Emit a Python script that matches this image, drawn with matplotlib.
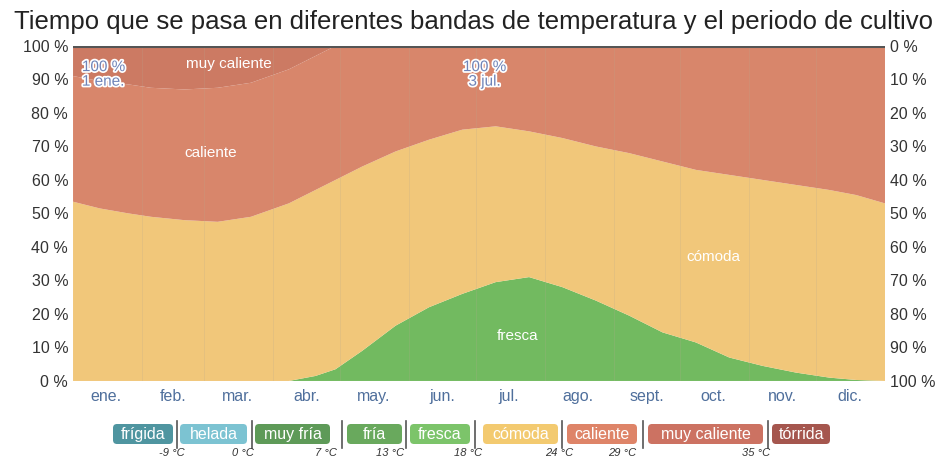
import matplotlib
matplotlib.use('Agg')
import matplotlib.pyplot as plt
import matplotlib.patheffects as pe
from matplotlib.patches import FancyBboxPatch
import numpy as np

plt.rcParams['font.family'] = ['Liberation Sans', 'DejaVu Sans']

# day of year for each sample
days = [0, 12, 25, 35, 50, 65, 80, 97, 109, 118, 130, 145, 160, 175, 190,
        205, 220, 235, 250, 265, 280, 295, 310, 325, 340, 352, 365]

# share of time (%) in each band, bottom to top
fresca = [0, 0, 0, 0, 0, 0, 0, 0, 1.5, 3.5, 9, 16.5, 22, 26, 29.5,
          31, 28, 24, 19.5, 14.5, 11.5, 7, 4.5, 2.5, 1, 0.3, 0]
comoda = [53.5, 51.5, 50, 49, 48, 47.5, 49, 53, 55.5, 56.5, 55, 52, 50, 49, 46.5,
          43.5, 44.5, 46, 48.5, 51, 51.5, 54.5, 55.5, 56, 56, 55.2, 53]
caliente = [37.5, 38, 38.5, 38.5, 39, 40, 40, 40, 40, 40, 36, 31.5, 28, 25, 24,
            25.5, 27.5, 30, 32, 34.5, 37, 38.5, 40, 41.5, 43, 44.5, 47]
muy_caliente = [9, 10.5, 11.5, 12.5, 13, 12.5, 11, 7, 3, 0, 0, 0, 0, 0, 0,
                0, 0, 0, 0, 0, 0, 0, 0, 0, 0, 0, 0]

months = ['ene.', 'feb.', 'mar.', 'abr.', 'may.', 'jun.', 'jul.', 'ago.',
          'sept.', 'oct.', 'nov.', 'dic.']
month_mid = [15, 45, 74, 105, 135, 166, 196, 227, 258, 288, 319, 349]
month_start = [31, 59, 90, 120, 151, 181, 212, 243, 273, 304, 334]

bands = ['frígida', 'helada', 'muy fría', 'fría', 'fresca', 'cómoda',
         'caliente', 'muy caliente', 'tórrida']
band_colors = ['#4f95a0', '#7cc3d2', '#5e9a58', '#69a95d', '#7cc46a',
               '#f3ca70', '#de8468', '#cc7262', '#a5564e']
temps = ['-9 °C', '0 °C', '7 °C', '13 °C', '18 °C', '24 °C', '29 °C', '35 °C']

c_fresca = '#72ba60'
c_comoda = '#f1c77a'
c_caliente = '#d8866b'
c_muy = '#cc7a63'

fig = plt.figure(figsize=(9.46, 4.59), dpi=100)
ax = fig.add_axes([0.0772, 0.170, 0.8583, 0.730])

ax.stackplot(days, fresca, comoda, caliente, muy_caliente,
             colors=[c_fresca, c_comoda, c_caliente, c_muy], linewidth=0)
ax.set_xlim(0, 365)
ax.set_ylim(0, 100)

for d in month_start:
    ax.axvline(d, color='#b8a890', lw=0.6, alpha=0.25)
ax.axhline(100, color='#555555', lw=2.2)

ax.set_yticks(range(0, 101, 10))
ax.set_yticklabels([f'{v} %' for v in range(0, 101, 10)])
ax.set_xticks(month_mid)
ax.set_xticklabels(months, color='#4f6f9c')
ax.tick_params(axis='both', length=0, labelsize=11.5, colors='#333333')
ax.tick_params(axis='x', colors='#4f6f9c', pad=6)
for s in ax.spines.values():
    s.set_visible(False)

ax2 = ax.twinx()
ax2.set_ylim(100, 0)
ax2.set_yticks(range(0, 101, 10))
ax2.set_yticklabels([f'{v} %' for v in range(0, 101, 10)])
ax2.tick_params(axis='y', length=0, labelsize=11.5, colors='#333333')
for s in ax2.spines.values():
    s.set_visible(False)

fig.text(0.5, 0.952, 'Tiempo que se pasa en diferentes bandas de temperatura y el periodo de cultivo',
         ha='center', va='center', fontsize=18.5, color='#222222')

# band labels inside the chart
ax.text(70, 94.5, 'muy caliente', color='white', fontsize=11, ha='center', va='center')
ax.text(62, 68, 'caliente', color='white', fontsize=11, ha='center', va='center')
ax.text(288, 37, 'cómoda', color='white', fontsize=11, ha='center', va='center')
ax.text(200, 13.5, 'fresca', color='white', fontsize=11, ha='center', va='center')

outline = [pe.withStroke(linewidth=2.5, foreground='white')]
ax.text(4, 91.5, '100 %\n1 ene.', color='#6f84b8', fontsize=11, ha='left',
        va='center', linespacing=1.05, path_effects=outline)
ax.text(185, 91.5, '100 %\n3 jul.', color='#6f84b8', fontsize=11, ha='center',
        va='center', linespacing=1.05, path_effects=outline)

# legend row below the chart, in pixel coordinates
lg = fig.add_axes([0, 0, 1, 1])
lg.set_xlim(0, 946)
lg.set_ylim(459, 0)
lg.axis('off')
box_left = [113, 180, 255, 347, 410, 483, 567, 648, 772]
box_right = [173, 247, 330, 402, 470, 558, 637, 763, 830]
sep_x = [177, 252, 342, 406, 475, 562, 643, 768]
temp_x = [172, 243, 326, 390, 468, 559, 622, 756]
for name, col, x0, x1 in zip(bands, band_colors, box_left, box_right):
    lg.add_patch(FancyBboxPatch((x0 + 3, 427), x1 - x0 - 6, 14,
                                boxstyle='round,pad=3,rounding_size=4',
                                fc=col, ec='none'))
    lg.text((x0 + x1) / 2, 434.5, name, color='white', fontsize=11.5,
            ha='center', va='center')
for x in sep_x:
    lg.plot([x, x], [421, 448], color='#555555', lw=1.2)
for t, x in zip(temps, temp_x):
    lg.text(x, 458, t, color='#333333', fontsize=8, ha='center', va='bottom',
            style='italic')

fig.savefig('out.png', dpi=100)
